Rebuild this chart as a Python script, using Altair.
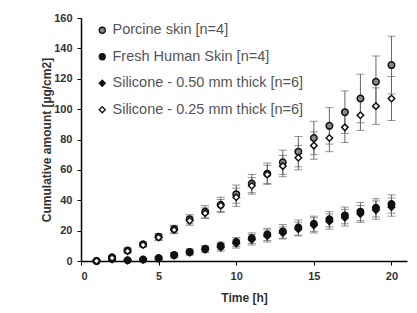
import altair as alt
import pandas as pd

time_h = list(range(1, 21))
series_names = ["Porcine skin [n=4]", "Fresh Human Skin [n=4]",
                "Silicone - 0.50 mm thick [n=6]", "Silicone - 0.25 mm thick [n=6]"]

porcine = [0, 2.5, 7, 11, 16, 21, 27.5, 32.5, 37, 44, 51, 57.5, 65, 72, 81, 89, 98, 107, 118, 129]
porcine_err = [0.5, 1, 1.5, 1.5, 2, 2.5, 3, 4, 5, 6, 6, 7, 8, 10, 11, 12, 14, 16, 17, 19]
human = [0, 1.5, 0.5, 1, 2, 4, 6, 8, 10, 12.5, 15, 17.5, 19.5, 22, 24.5, 27.5, 30, 32.5, 35, 37.5]
human_err = [0.3, 0.5, 0.5, 0.8, 1, 1.5, 2, 2, 2.5, 3, 3.5, 4, 4.5, 5, 5, 5, 5.5, 6, 6, 6]
sil50 = [0, 1, 0.3, 0.8, 1.5, 3.5, 5.5, 7.5, 9, 11.5, 14, 16.5, 18.5, 21, 23.5, 26, 28.5, 31, 33.5, 35.5]
sil50_err = [0.3, 0.5, 0.5, 0.8, 1, 1.5, 1.5, 2, 2.5, 3, 3.5, 4, 4, 4.5, 5, 5, 5.5, 5.5, 6, 6]
sil25 = [0, 2, 6.5, 10.5, 15.5, 20.5, 26.5, 31.5, 36.5, 42, 49.5, 57, 62.5, 68, 76, 81, 88, 96, 102, 107]
sil25_err = [0.5, 1, 1.5, 1.5, 2, 2.5, 3, 3.5, 4, 6, 5.5, 6, 7, 8, 9, 9, 10, 10, 12, 14.5]
x_ticks = [0, 5, 10, 15, 20]
y_ticks = [0, 20, 40, 60, 80, 100, 120, 140, 160]

rows = []
for name, vals, errs in zip(series_names, [porcine, human, sil50, sil25],
                            [porcine_err, human_err, sil50_err, sil25_err]):
    for t, v, e in zip(time_h, vals, errs):
        rows.append({"series": name, "t": t, "v": v, "lo": max(v - e, 0), "hi": v + e})
df = pd.DataFrame(rows)

xs = alt.Scale(domain=[0, 21], nice=False)
ys = alt.Scale(domain=[0, 160], nice=False)

x_axis = alt.Axis(values=x_ticks, title="Time [h]", grid=False, labelOverlap=False)
y_axis = alt.Axis(values=y_ticks, title="Cumulative amount [µg/cm2]", grid=False,
                  labelOverlap=False)


def X(f):
    return alt.X(f, scale=xs, axis=x_axis)


def Y(f):
    return alt.Y(f, scale=ys, axis=y_axis)


base = alt.Chart(df)

bars = base.mark_rule(color="#666", strokeWidth=1).encode(
    x=X("t:Q"), y=Y("lo:Q"), y2="hi:Q",
)
cap_hi = base.mark_tick(orient="horizontal", size=8, thickness=1, color="#666").encode(
    x=X("t:Q"), y=Y("hi:Q"))
cap_lo = base.mark_tick(orient="horizontal", size=8, thickness=1, color="#666").encode(
    x=X("t:Q"), y=Y("lo:Q"))

leg = alt.Legend(title=None)
points = base.mark_point(filled=False, strokeWidth=1.5, size=42, opacity=1).encode(
    x=X("t:Q"),
    y=Y("v:Q"),
    shape=alt.Shape("series:N", scale=alt.Scale(domain=series_names,
                    range=["circle", "circle", "diamond", "diamond"]), legend=leg),
    fill=alt.Fill("series:N", scale=alt.Scale(domain=series_names,
                  range=["#888888", "#111111", "#111111", "#ffffff"]), legend=leg),
    stroke=alt.Stroke("series:N", scale=alt.Scale(domain=series_names,
                      range=["#111111", "#111111", "#111111", "#111111"]), legend=leg),
)

chart = alt.layer(bars, cap_hi, cap_lo, points).properties(
    width=326, height=243,
    autosize=alt.AutoSizeParams(type="none"),
    padding={"left": 73, "top": 10, "right": 2, "bottom": 44},
).configure_view(stroke=None).configure_axis(
    domainColor="black", domainWidth=1.5, tickColor="black", tickSize=4,
    labelFont="Liberation Sans", labelFontSize=11, labelFontWeight="bold", labelColor="#333",
    titleFont="Liberation Sans", titleFontSize=12, titleFontWeight="bold", titleColor="#333",
    labelPadding=5,
).configure_axisY(titlePadding=0).configure_axisX(titlePadding=11).configure_legend(
    orient="none", legendX=14, legendY=5, rowPadding=11.5, labelLimit=0,
    labelFont="Liberation Sans", labelFontSize=14.5, labelColor="#555",
    symbolStrokeWidth=1.3, symbolSize=36, labelOffset=3, symbolOpacity=1,
)

chart.save("out.html", embed_options={"renderer": "svg", "actions": False})
